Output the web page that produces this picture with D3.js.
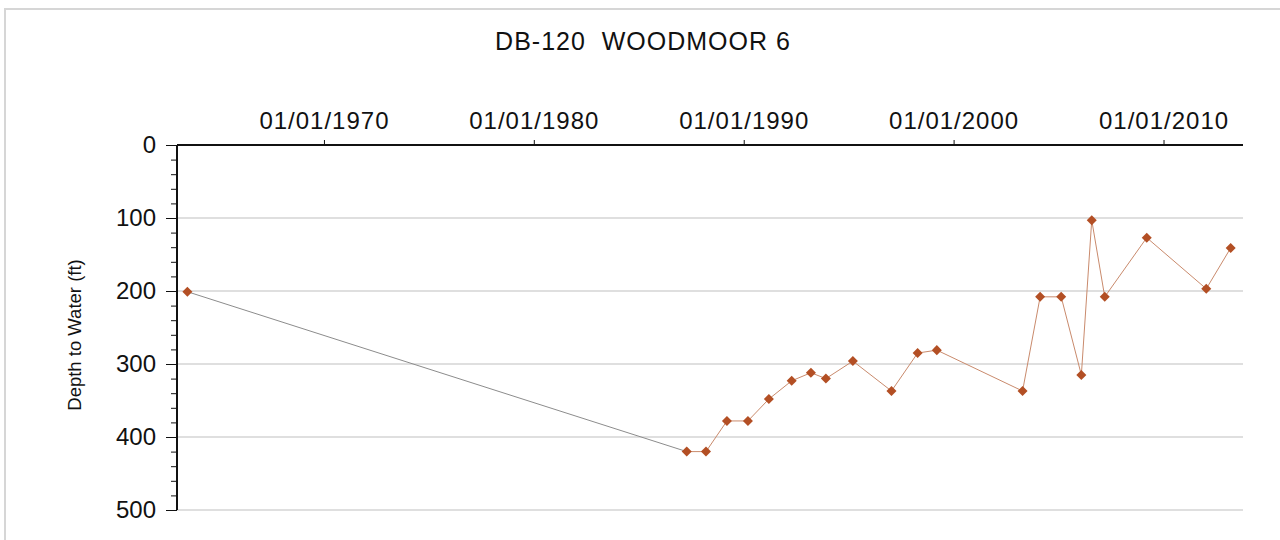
<!DOCTYPE html>
<html>
<head>
<meta charset="utf-8">
<script src="https://cdn.jsdelivr.net/npm/d3@7"></script>
<style>
  body { margin: 0; background: #fff; }
  svg text { font-family: "Liberation Sans", Arial, sans-serif; fill: #111; }
  .axis .domain { stroke: #111; stroke-width: 2px; }
  .axis .tick line { stroke: #111; }
</style>
</head>
<body>
<div id="chart"></div>
<script>
var width = 1280, height = 540;
var margin = {top: 145, right: 37, bottom: 30, left: 177};

var title = "DB-120\u00a0\u00a0WOODMOOR 6";
var yLabel = "Depth to Water (ft)";

// measurement dates and depth to water (ft)
var dates = ["1963-07-01", "1987-04-15", "1988-03-15", "1989-03-15", "1990-03-15",
  "1991-03-15", "1992-04-15", "1993-03-15", "1993-12-01", "1995-03-15",
  "1997-01-15", "1998-04-15", "1999-03-15", "2003-04-15", "2004-02-15",
  "2005-02-15", "2006-02-01", "2006-08-01", "2007-03-15", "2009-03-15",
  "2012-01-15", "2013-03-15"];
var depths = [201, 420, 420, 378, 378, 348, 323, 312, 320, 296,
  337, 285, 281, 337, 208, 208, 315, 103, 208, 127, 197, 141];

var xTicks = ["1970-01-01", "1980-01-01", "1990-01-01", "2000-01-01", "2010-01-01"];
var yTicks = [0, 100, 200, 300, 400, 500];

var parse = d3.timeParse("%Y-%m-%d");
var data = dates.map((d, i) => ({date: parse(d), depth: depths[i]}));

var svg = d3.select("#chart").append("svg")
    .attr("width", width)
    .attr("height", height);

// outer frame
svg.append("rect")
    .attr("x", 5).attr("y", 9)
    .attr("width", width + 10).attr("height", height + 10)
    .attr("fill", "none")
    .attr("stroke", "#d6d6d6")
    .attr("stroke-width", 2);

var x = d3.scaleTime()
    .domain([new Date(1963, 0, 1), new Date(2013, 9, 15)])
    .range([margin.left, width - margin.right]);

var y = d3.scaleLinear()
    .domain([0, 500])
    .range([margin.top, height - margin.bottom]);

// grid lines
svg.append("g")
    .selectAll("line")
    .data(yTicks.slice(1))
    .enter()
    .append("line")
    .attr("x1", x.range()[0])
    .attr("x2", x.range()[1])
    .attr("y1", d => y(d))
    .attr("y2", d => y(d))
    .attr("stroke", "#d4d4d4")
    .attr("stroke-width", 1.5);

// top date axis
var xAxis = d3.axisTop(x)
    .tickValues(xTicks.map(parse))
    .tickSize(5)
    .tickPadding(11)
    .tickFormat(d3.timeFormat("%m/%d/%Y"));

svg.append("g")
    .attr("class", "axis")
    .attr("transform", `translate(0, ${margin.top})`)
    .call(xAxis)
    .call(g => g.select(".domain").attr("d", `M${x.range()[0]},0H${x.range()[1]}`))
    .selectAll("text")
    .style("font-size", "24px")
    .style("letter-spacing", "1px");

// minor ticks on depth axis
svg.append("g")
    .attr("class", "axis")
    .attr("transform", `translate(${margin.left}, 0)`)
    .call(d3.axisLeft(y).ticks(25).tickSize(6).tickFormat(""))
    .call(g => g.select(".domain").remove());

// major ticks on depth axis
svg.append("g")
    .attr("class", "axis")
    .attr("transform", `translate(${margin.left}, 0)`)
    .call(d3.axisLeft(y).tickValues(yTicks).tickSize(11).tickPadding(10))
    .call(g => g.select(".domain").attr("d", `M0,${y.range()[0]}V${y.range()[1]}`))
    .selectAll("text")
    .style("font-size", "24px");

// title
svg.append("text")
    .attr("x", 643)
    .attr("y", 50)
    .attr("text-anchor", "middle")
    .style("font-size", "25px")
    .style("letter-spacing", "1px")
    .text(title);

svg.append("text")
    .attr("transform", `translate(81, 335) rotate(-90)`)
    .attr("text-anchor", "middle")
    .style("font-size", "18.5px")
    .text(yLabel);

// line segments: first one gray, rest brownish
var line = d3.line()
    .x(d => x(d.date))
    .y(d => y(d.depth));

svg.append("path")
    .datum(data.slice(0, 2))
    .attr("d", line)
    .attr("fill", "none")
    .attr("stroke", "#8c8c8c")
    .attr("stroke-width", 1);

svg.append("path")
    .datum(data.slice(1))
    .attr("d", line)
    .attr("fill", "none")
    .attr("stroke", "#c98a6c")
    .attr("stroke-width", 1);

svg.selectAll("path.pt")
    .data(data)
    .enter()
    .append("path")
    .attr("class", "pt")
    .attr("transform", d => `translate(${x(d.date)}, ${y(d.depth)})`)
    .attr("d", d3.symbol().type(d3.symbolDiamond2).size(64))
    .attr("fill", "#b34f24");
</script>
</body>
</html>
